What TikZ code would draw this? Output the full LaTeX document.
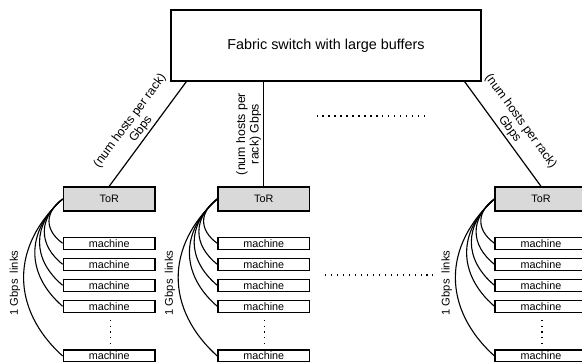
\documentclass[tikz,border=0pt]{standalone}
\usepackage{fontspec}
\setmainfont{Liberation Sans}
\usetikzlibrary{calc}
\begin{document}
\begin{tikzpicture}[x=1pt,y=-1pt,
  box/.style={draw=black, line width=1.4pt, inner sep=0pt, anchor=center},
  fabbox/.style={box, minimum width=310pt, minimum height=71pt, font=\fontsize{14.4}{17}\selectfont},
  torbox/.style={box, fill=black!15, minimum width=91.7pt, minimum height=24pt, font=\fontsize{10.8}{12}\selectfont},
  machbox/.style={box, fill=white, minimum width=91.7pt, minimum height=12pt, font=\fontsize{10.8}{12}\selectfont},
  uplink/.style={draw=black, line width=1.2pt},
  link/.style={draw=black, line width=1.1pt},
  uplabel/.style={font=\fontsize{12.3}{13.6}\selectfont, align=center, inner sep=2pt},
  gbps/.style={font=\fontsize{11.2}{13}\selectfont, rotate=90, inner sep=0pt},
  dotrow/.style={draw=black, line width=1.3pt, dash pattern=on 1.3pt off 4.67pt},
  dotcol/.style={draw=black, line width=1.2pt, dash pattern=on 1.2pt off 4.45pt}
]
\useasboundingbox (0,0) rectangle (582,362);
\clip (0,0) rectangle (582,362);

\node[fabbox] (fab) at (326,45.5) {Fabric switch with large buffers};

\foreach \c/\x in {1/109.2, 2/263.8, 3/541.0} {
  \node[torbox] (t\c) at (\x,199) {ToR};
  \foreach \m/\y in {1/243.3, 2/264.3, 3/285.3, 4/306.3, 5/356} {
    \node[machbox] (m\c\m) at (\x,\y) {machine};
  }
  \foreach \m/\h in {1/44, 2/65, 3/86, 4/107, 5/157} {
    \pgfmathsetmacro{\dx}{0.3*\h+5}
    \pgfmathsetmacro{\dy}{0.3*\h}
    \draw[link] (t\c.west) .. controls +(-\dx,\dy) and +(-\dx,-\dy) .. (m\c\m.west);
  }
  \draw[dotcol] ($(m\c4.south)+(1,7)$) -- ($(m\c5.north)+(1,-4)$);
}

\node[gbps] (g1) at (15,283) {1 Gbps\ \ links};
\node[gbps] (g2) at (170,283) {1 Gbps\ \ links};
\node[gbps] (g3) at (446.7,283) {1 Gbps\ \ links};

\coordinate (f1) at ($(fab.south west)+(16,0)$);
\coordinate (f2) at (fab.south -| t2.north);
\coordinate (f3) at ($(fab.south east)+(-17,0)$);

\draw[uplink] (t1.north) -- node[uplabel, midway, above, sloped] {(num hosts per rack)\\Gbps} (f1);
\draw[uplink] (t2.north) -- node[uplabel, midway, above, sloped] {(num hosts per\\rack) Gbps} (f2);
\draw[uplink] (f3) -- node[uplabel, midway, above, sloped] {(num hosts per rack)\\Gbps} (t3.north);

\coordinate (d1a) at (316.5,116);
\coordinate (d1b) at (425,116);
\draw[dotrow] (d1a) -- (d1b);
\coordinate (d2a) at (325,275);
\coordinate (d2b) at (433,275);
\draw[dotrow] (d2a) -- (d2b);
\end{tikzpicture}
\end{document}
